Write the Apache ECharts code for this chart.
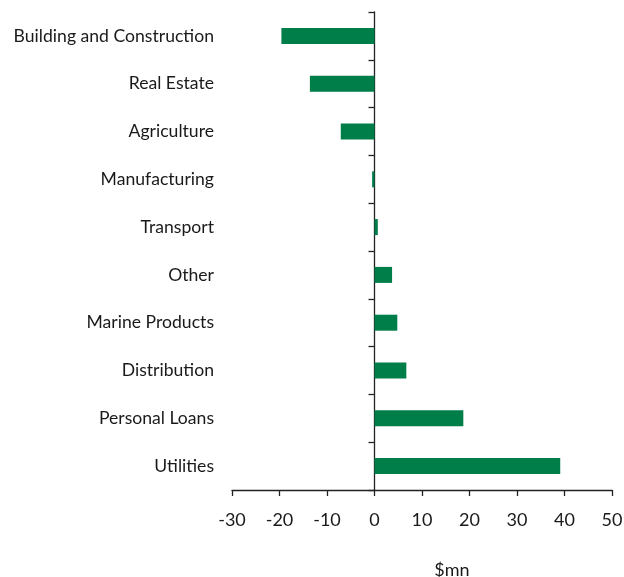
<!DOCTYPE html>
<html>
<head>
<meta charset="utf-8">
<script src="https://cdn.jsdelivr.net/npm/echarts@6/dist/echarts.min.js"></script>
<style>
  html, body { margin: 0; padding: 0; background: #fff; }
  #chart { width: 624px; height: 577px; }
</style>
</head>
<body>
<div id="chart"></div>
<script>
// Sectors, top to bottom
const sectors = [
  'Building and Construction', 'Real Estate', 'Agriculture', 'Manufacturing',
  'Transport', 'Other', 'Marine Products', 'Distribution', 'Personal Loans', 'Utilities'
];
// Change in lending by sector, $mn
const changeMn = [-19.6, -13.6, -7.1, -0.5, 0.7, 3.7, 4.8, 6.7, 18.7, 39.1];
const xTicks = [-30, -20, -10, 0, 10, 20, 30, 40, 50];

const font = 'Lato, "Open Sans", sans-serif';
const textColor = '#1a1a1a';
const lineColor = '#222';

const chart = echarts.init(document.getElementById('chart'), null, { renderer: 'canvas' });
chart.setOption({
  animation: false,
  grid: { left: 232, right: 12, top: 12, bottom: 87, containLabel: false, outerBoundsMode: 'none' },
  xAxis: {
    type: 'value',
    min: xTicks[0],
    max: xTicks[xTicks.length - 1],
    interval: 10,
    name: '$mn',
    nameLocation: 'middle',
    nameGap: 71,
    nameTextStyle: { fontFamily: font, fontSize: 18, color: textColor, padding: [0, 0, 0, 60] },
    splitLine: { show: false },
    axisLine: { show: true, onZero: false, lineStyle: { color: lineColor, width: 1.3 } },
    axisTick: { show: true, length: 6, lineStyle: { color: lineColor, width: 1.3 } },
    axisLabel: { fontFamily: font, fontSize: 18, color: textColor, margin: 21 }
  },
  yAxis: [
    {
      // category labels along the left edge of the plot
      type: 'category',
      data: sectors,
      inverse: true,
      position: 'left',
      axisLine: { show: false, onZero: false },
      axisTick: { show: false },
      axisLabel: { fontFamily: font, fontSize: 17.6, color: textColor, margin: 18 }
    },
    {
      // spine drawn at zero
      type: 'category',
      data: sectors,
      inverse: true,
      position: 'left',
      axisLine: { show: true, onZero: true, lineStyle: { color: lineColor, width: 1.3 } },
      axisTick: { show: true, length: 6, lineStyle: { color: lineColor, width: 1.3 } },
      axisLabel: { show: false }
    }
  ],
  series: [{
    type: 'bar',
    yAxisIndex: 0,
    data: changeMn,
    barWidth: 16,
    itemStyle: { color: '#007E4A' }
  }]
});
</script>
</body>
</html>
